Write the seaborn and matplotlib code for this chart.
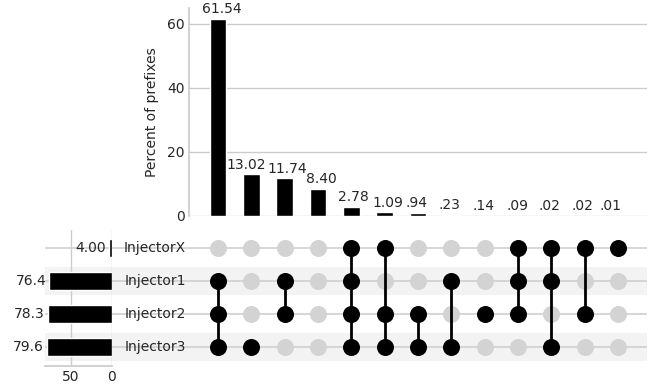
import matplotlib
matplotlib.use('Agg')
import matplotlib.pyplot as plt
import seaborn as sns
import numpy as np
import pandas as pd

sns.set_theme(style='whitegrid')
plt.rcParams['font.family'] = ['DejaVu Sans']
plt.rcParams['font.size'] = 10

# sets (top to bottom in the matrix) and their totals (percent)
set_names = ['InjectorX', 'Injector1', 'Injector2', 'Injector3']
set_totals = [4.00, 76.4, 78.3, 79.6]
set_total_labels = ['4.00', '76.4', '78.3', '79.6']

# intersections, sorted by size
inter_pct = [61.54, 13.02, 11.74, 8.40, 2.78, 1.09, 0.94, 0.23, 0.14, 0.09, 0.02, 0.02, 0.01]
inter_labels = ['61.54', '13.02', '11.74', '8.40', '2.78', '1.09', '.94', '.23',
                '.14', '.09', '.02', '.02', '.01']
inter_members = [
    ['Injector1', 'Injector2', 'Injector3'],
    ['Injector3'],
    ['Injector1', 'Injector2'],
    [],
    ['InjectorX', 'Injector1', 'Injector2', 'Injector3'],
    ['InjectorX', 'Injector2', 'Injector3'],
    ['Injector2', 'Injector3'],
    ['Injector1', 'Injector3'],
    ['Injector2'],
    ['InjectorX', 'Injector1', 'Injector2'],
    ['InjectorX', 'Injector1', 'Injector3'],
    ['InjectorX', 'Injector2'],
    ['InjectorX'],
]

# small horizontal nudges (pixels) of the bar labels so they don't collide
label_nudge_px = [4, -5, 3, 3, 2, 3.5, -2, -1.5, -1.5, -1, -1.5, -2.5, -8]

n_sets = len(set_names)
n_cols = len(inter_pct)
row_y = {name: n_sets - 1 - i for i, name in enumerate(set_names)}

rows = []
for c, members in enumerate(inter_members):
    for name in set_names:
        rows.append({'col': c, 'row': row_y[name], 'present': name in members})
mat = pd.DataFrame(rows)

fig = plt.figure(figsize=(6.54, 3.87), dpi=100)
ax_bar = fig.add_axes([0.2890, 0.4419, 0.7003, 0.5375])
ax_mat = fig.add_axes([0.0688, 0.0543, 0.9205, 0.3514])
ax_tot = fig.add_axes([0.0688, 0.0543, 0.1024, 0.3514])

grey = '#cccccc'
text_col = '#262626'

# --- intersection bars
bars = pd.DataFrame({'col': np.arange(n_cols), 'pct': inter_pct})
sns.barplot(data=bars, x='col', y='pct', native_scale=True, width=0.5,
            color='black', saturation=1, ax=ax_bar)
for c, (v, lab) in enumerate(zip(inter_pct, inter_labels)):
    ax_bar.annotate(lab, (c, v), xytext=(label_nudge_px[c] * 0.72, 2),
                    textcoords='offset points', ha='center', va='bottom',
                    fontsize=10, color=text_col)
ax_bar.set_xlim(-0.87, n_cols - 1 + 0.87)
ax_bar.set_ylim(0, 65)
ax_bar.set_yticks([0, 20, 40, 60])
ax_bar.set_xticks([])
ax_bar.set_xlabel('')
ax_bar.set_ylabel('Percent of prefixes', fontsize=10, labelpad=6)
ax_bar.grid(axis='x', visible=False)
ax_bar.grid(axis='y', color=grey, lw=1)
for s in ['top', 'right', 'bottom']:
    ax_bar.spines[s].set_visible(False)
ax_bar.spines['left'].set_color(grey)
ax_bar.tick_params(axis='y', labelsize=10, length=0, pad=3, labelcolor=text_col)

# --- matrix
ax_mat.set_xlim(-5.19, n_cols - 1 + 0.87)
ax_mat.set_ylim(-0.576, 3.545)
for name in set_names:
    y = row_y[name]
    if set_names.index(name) % 2 == 1:
        ax_mat.axhspan(y - 0.41, y + 0.41, color='#f3f3f3', lw=0, zorder=0)
    ax_mat.axhline(y, color='#d0d0d0', lw=1.2, zorder=1)
    ax_mat.text(-1.89, y, name, ha='center', va='center', fontsize=10,
                color=text_col, zorder=2)

sns.scatterplot(data=mat[~mat['present']], x='col', y='row', color='#d3d3d3',
                s=150, linewidth=0, legend=False, ax=ax_mat, zorder=2)
for c, members in enumerate(inter_members):
    if len(members) > 1:
        ys = [row_y[m] for m in members]
        ax_mat.plot([c, c], [min(ys), max(ys)], color='black', lw=2, zorder=3)
sns.scatterplot(data=mat[mat['present']], x='col', y='row', color='black',
                s=150, linewidth=0, legend=False, ax=ax_mat, zorder=4)
ax_mat.set_xticks([])
ax_mat.set_yticks([])
ax_mat.set_xlabel('')
ax_mat.set_ylabel('')
ax_mat.grid(False)
for s in ax_mat.spines.values():
    s.set_visible(False)
ax_mat.set_facecolor('none')

# --- set totals
tot = pd.DataFrame({'row': [row_y[n] for n in set_names], 'pct': set_totals})
sns.barplot(data=tot, x='pct', y='row', orient='h', native_scale=True, width=0.56,
            color='black', saturation=1, ax=ax_tot)
for name, v, lab in zip(set_names, set_totals, set_total_labels):
    ax_tot.annotate(lab, (v, row_y[name]), xytext=(-2, 0), textcoords='offset points',
                    ha='right', va='center', fontsize=10, color=text_col,
                    annotation_clip=False)
ax_tot.set_xlim(81.7, 0)
ax_tot.set_ylim(-0.576, 3.545)
ax_tot.set_xticks([50, 0])
ax_tot.set_yticks([])
ax_tot.set_xlabel('')
ax_tot.set_ylabel('')
ax_tot.grid(axis='y', visible=False)
ax_tot.grid(axis='x', color=grey, lw=1)
for s in ['top', 'right', 'left']:
    ax_tot.spines[s].set_visible(False)
ax_tot.spines['bottom'].set_color(grey)
ax_tot.tick_params(axis='x', labelsize=10, length=0, pad=3, labelcolor=text_col)
ax_tot.set_facecolor('none')
ax_tot.set_zorder(5)

fig.savefig('out.png', dpi=100)
plt.close()
